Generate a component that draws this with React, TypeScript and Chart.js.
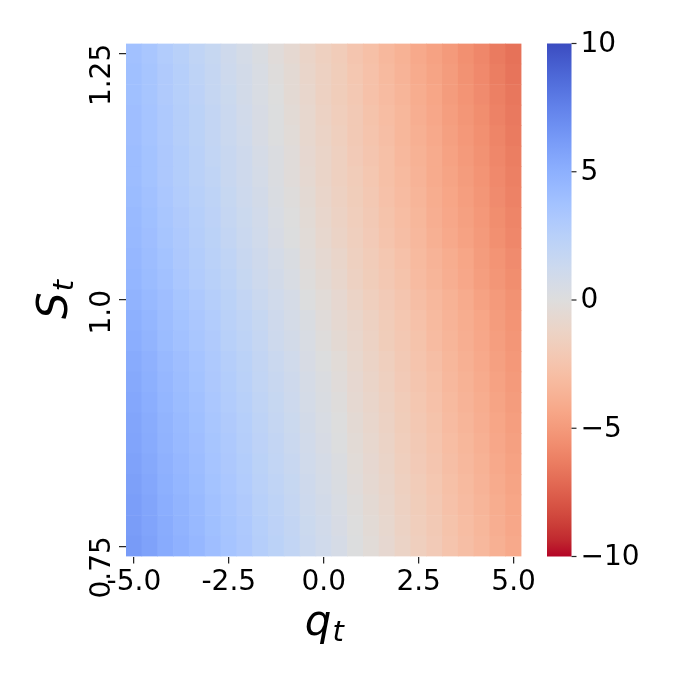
import React, { useEffect, useRef } from "react";
import { Chart, registerables } from "chart.js";

Chart.register(...registerables);

// ---- data ----
// q_t grid (columns, left -> right)
const Q_GRID = [
  -5.0, -4.583, -4.167, -3.75, -3.333, -2.917, -2.5, -2.083, -1.667, -1.25, -0.833, -0.417,
  0.0, 0.417, 0.833, 1.25, 1.667, 2.083, 2.5, 2.917, 3.333, 3.75, 4.167, 4.583, 5.0,
];
// S_t grid (rows, bottom -> top)
const S_GRID = [
  0.75, 0.771, 0.792, 0.813, 0.833, 0.854, 0.875, 0.896, 0.917, 0.938, 0.958, 0.979,
  1.0, 1.021, 1.042, 1.063, 1.083, 1.104, 1.125, 1.146, 1.167, 1.188, 1.208, 1.229, 1.25,
];
const X_TICK_INDEX = [0, 6, 12, 18, 24];
const X_TICK_LABELS = ["-5.0", "-2.5", "0.0", "2.5", "5.0"];
const Y_TICK_INDEX = [0, 12, 24];
const Y_TICK_LABELS = ["0.75", "1.0", "1.25"];
const CB_TICKS = [-10, -5, 0, 5, 10];
const CB_TICK_LABELS = ["\u221210", "\u22125", "0", "5", "10"];
const V_MIN = -10;
const V_MAX = 10;

// cell values, one row per S (bottom row S=0.75 first), columns follow Q_GRID
const VALUES: number[][] = [
  [6.2,5.8,5.3,4.9,4.5,4.0,3.6,3.2,2.7,2.3,1.9,1.4,1.0,0.6,0.1,-0.3,-0.7,-1.2,-1.6,-2.0,-2.5,-2.9,-3.3,-3.8,-4.2],
  [6.1,5.7,5.2,4.8,4.4,3.9,3.5,3.1,2.6,2.2,1.8,1.3,0.9,0.5,0.0,-0.4,-0.8,-1.3,-1.7,-2.1,-2.6,-3.0,-3.4,-3.9,-4.3],
  [6.0,5.6,5.1,4.7,4.3,3.8,3.4,3.0,2.5,2.1,1.7,1.2,0.8,0.4,-0.1,-0.5,-0.9,-1.4,-1.8,-2.2,-2.7,-3.1,-3.5,-4.0,-4.4],
  [5.9,5.5,5.0,4.6,4.2,3.7,3.3,2.9,2.4,2.0,1.6,1.1,0.7,0.3,-0.2,-0.6,-1.0,-1.5,-1.9,-2.3,-2.8,-3.2,-3.6,-4.1,-4.5],
  [5.8,5.4,4.9,4.5,4.1,3.6,3.2,2.8,2.3,1.9,1.5,1.0,0.6,0.2,-0.3,-0.7,-1.1,-1.6,-2.0,-2.4,-2.9,-3.3,-3.7,-4.2,-4.6],
  [5.7,5.3,4.8,4.4,4.0,3.5,3.1,2.7,2.2,1.8,1.4,0.9,0.5,0.1,-0.4,-0.8,-1.2,-1.7,-2.1,-2.5,-3.0,-3.4,-3.8,-4.3,-4.7],
  [5.6,5.2,4.7,4.3,3.9,3.4,3.0,2.6,2.1,1.7,1.3,0.8,0.4,0.0,-0.5,-0.9,-1.3,-1.8,-2.2,-2.6,-3.1,-3.5,-3.9,-4.4,-4.8],
  [5.5,5.1,4.6,4.2,3.8,3.3,2.9,2.5,2.0,1.6,1.2,0.7,0.3,-0.1,-0.6,-1.0,-1.4,-1.9,-2.3,-2.7,-3.2,-3.6,-4.0,-4.5,-4.9],
  [5.4,5.0,4.5,4.1,3.7,3.2,2.8,2.4,1.9,1.5,1.1,0.6,0.2,-0.2,-0.7,-1.1,-1.5,-2.0,-2.4,-2.8,-3.3,-3.7,-4.1,-4.6,-5.0],
  [5.3,4.9,4.4,4.0,3.6,3.1,2.7,2.3,1.8,1.4,1.0,0.5,0.1,-0.3,-0.8,-1.2,-1.6,-2.1,-2.5,-2.9,-3.4,-3.8,-4.2,-4.7,-5.1],
  [5.1,4.7,4.2,3.8,3.4,3.0,2.5,2.1,1.7,1.2,0.8,0.4,-0.1,-0.5,-0.9,-1.3,-1.8,-2.2,-2.6,-3.1,-3.5,-3.9,-4.3,-4.8,-5.2],
  [5.0,4.6,4.1,3.7,3.3,2.9,2.4,2.0,1.6,1.1,0.7,0.3,-0.2,-0.6,-1.0,-1.4,-1.9,-2.3,-2.7,-3.2,-3.6,-4.0,-4.4,-4.9,-5.3],
  [4.8,4.4,4.0,3.5,3.1,2.7,2.3,1.8,1.4,1.0,0.6,0.1,-0.3,-0.7,-1.2,-1.6,-2.0,-2.4,-2.9,-3.3,-3.7,-4.1,-4.6,-5.0,-5.4],
  [4.6,4.2,3.8,3.3,2.9,2.5,2.1,1.6,1.2,0.8,0.4,-0.1,-0.5,-0.9,-1.4,-1.8,-2.2,-2.6,-3.1,-3.5,-3.9,-4.3,-4.8,-5.2,-5.6],
  [4.5,4.1,3.7,3.2,2.8,2.4,2.0,1.5,1.1,0.7,0.3,-0.2,-0.6,-1.0,-1.5,-1.9,-2.3,-2.7,-3.2,-3.6,-4.0,-4.4,-4.9,-5.3,-5.7],
  [4.4,4.0,3.5,3.1,2.7,2.3,1.8,1.4,1.0,0.5,0.1,-0.3,-0.8,-1.2,-1.6,-2.0,-2.5,-2.9,-3.3,-3.8,-4.2,-4.6,-5.0,-5.5,-5.9],
  [4.3,3.9,3.4,3.0,2.6,2.2,1.7,1.3,0.9,0.4,0.0,-0.4,-0.9,-1.3,-1.7,-2.1,-2.6,-3.0,-3.4,-3.9,-4.3,-4.7,-5.1,-5.6,-6.0],
  [4.2,3.8,3.3,2.9,2.5,2.1,1.6,1.2,0.8,0.3,-0.1,-0.5,-1.0,-1.4,-1.8,-2.2,-2.7,-3.1,-3.5,-4.0,-4.4,-4.8,-5.2,-5.7,-6.1],
  [4.1,3.7,3.2,2.8,2.4,2.0,1.5,1.1,0.7,0.2,-0.2,-0.6,-1.1,-1.5,-1.9,-2.3,-2.8,-3.2,-3.6,-4.1,-4.5,-4.9,-5.3,-5.8,-6.2],
  [4.1,3.7,3.2,2.8,2.4,1.9,1.5,1.1,0.6,0.2,-0.2,-0.7,-1.1,-1.5,-2.0,-2.4,-2.8,-3.3,-3.7,-4.1,-4.6,-5.0,-5.4,-5.9,-6.3],
  [4.0,3.6,3.1,2.7,2.3,1.8,1.4,1.0,0.5,0.1,-0.3,-0.8,-1.2,-1.6,-2.1,-2.5,-2.9,-3.4,-3.8,-4.2,-4.7,-5.1,-5.5,-6.0,-6.4],
  [4.0,3.6,3.1,2.7,2.3,1.8,1.4,0.9,0.5,0.1,-0.4,-0.8,-1.3,-1.7,-2.1,-2.6,-3.0,-3.4,-3.9,-4.3,-4.8,-5.2,-5.6,-6.1,-6.5],
  [3.9,3.5,3.0,2.6,2.2,1.7,1.3,0.8,0.4,0.0,-0.5,-0.9,-1.4,-1.8,-2.2,-2.7,-3.1,-3.5,-4.0,-4.4,-4.9,-5.3,-5.7,-6.2,-6.6],
  [3.9,3.5,3.0,2.6,2.1,1.7,1.2,0.8,0.4,-0.1,-0.5,-1.0,-1.4,-1.8,-2.3,-2.7,-3.2,-3.6,-4.1,-4.5,-4.9,-5.4,-5.8,-6.3,-6.7],
  [3.8,3.4,2.9,2.5,2.0,1.6,1.1,0.7,0.3,-0.2,-0.6,-1.1,-1.5,-1.9,-2.4,-2.8,-3.3,-3.7,-4.2,-4.6,-5.0,-5.5,-5.9,-6.4,-6.8],
];

// ---- colormap (coolwarm, sampled) ----
const COOLWARM: [number, number, number][] = [
  [59,76,192],[68,90,204],[77,104,215],[87,117,225],[98,130,234],[108,142,241],[119,154,247],[130,165,251],
  [141,176,254],[152,185,255],[163,194,255],[174,201,253],[184,208,249],[194,213,244],[204,217,238],[213,219,230],
  [221,221,221],[229,216,209],[236,211,197],[241,204,185],[245,196,173],[247,187,160],[247,177,148],[247,166,135],
  [244,154,123],[241,141,111],[236,127,99],[229,112,88],[222,96,77],[213,80,66],[203,62,56],[192,40,47],[180,4,38],
];

function coolwarm(t: number): string {
  const tt = Math.max(0, Math.min(1, t)) * (COOLWARM.length - 1);
  const i = Math.min(COOLWARM.length - 2, Math.floor(tt));
  const f = tt - i;
  const a = COOLWARM[i];
  const b = COOLWARM[i + 1];
  const c = [0, 1, 2].map((k) => Math.round(a[k] + (b[k] - a[k]) * f));
  return `rgb(${c[0]},${c[1]},${c[2]})`;
}

// reversed: high values blue, low values red
function colorFor(v: number): string {
  return coolwarm((V_MAX - v) / (V_MAX - V_MIN));
}

const FONT = "'DejaVu Sans', 'Liberation Sans', sans-serif";

const overlayPlugin = {
  id: "heatmapOverlay",
  afterDraw(chart: any) {
    const ctx: CanvasRenderingContext2D = chart.ctx;
    const area = chart.chartArea;
    const yScale = chart.scales.y;
    const cbScale = chart.scales.cb;

    ctx.save();
    ctx.fillStyle = "#000";

    // rotated y tick labels
    ctx.font = `28px ${FONT}`;
    Y_TICK_INDEX.forEach((idx, k) => {
      const py = yScale.getPixelForValue(idx + 0.5);
      ctx.save();
      ctx.translate(area.left - 16, py - 10);
      ctx.rotate(-Math.PI / 2);
      ctx.textAlign = "right";
      ctx.textBaseline = "alphabetic";
      ctx.fillText(Y_TICK_LABELS[k], 0, 0);
      ctx.restore();
    });

    // y axis title S_t
    {
      const cy = (area.top + area.bottom) / 2;
      ctx.save();
      ctx.translate(67, cy);
      ctx.rotate(-Math.PI / 2);
      ctx.font = `italic 42px ${FONT}`;
      const wS = ctx.measureText("S").width;
      ctx.font = `italic 29px ${FONT}`;
      const wt = ctx.measureText("t").width;
      const x0 = -(wS + wt) / 2;
      ctx.textAlign = "left";
      ctx.textBaseline = "alphabetic";
      ctx.font = `italic 42px ${FONT}`;
      ctx.fillText("S", x0, 0);
      ctx.font = `italic 29px ${FONT}`;
      ctx.fillText("t", x0 + wS + 1, 6);
      ctx.restore();
    }

    // x axis title q_t
    {
      const cx = (area.left + area.right) / 2;
      ctx.save();
      ctx.font = `italic 42px ${FONT}`;
      const wq = ctx.measureText("q").width;
      ctx.font = `italic 29px ${FONT}`;
      const wt = ctx.measureText("t").width;
      const x0 = cx - (wq + wt) / 2;
      ctx.textAlign = "left";
      ctx.textBaseline = "alphabetic";
      ctx.font = `italic 42px ${FONT}`;
      ctx.fillText("q", x0, 635);
      ctx.font = `italic 29px ${FONT}`;
      ctx.fillText("t", x0 + wq + 1, 641);
      ctx.restore();
    }

    // colorbar
    const cbLeft = 547;
    const cbRight = 571.5;
    const top = cbScale ? cbScale.getPixelForValue(V_MAX) : area.top;
    const bottom = cbScale ? cbScale.getPixelForValue(V_MIN) : area.bottom;
    const grad = ctx.createLinearGradient(0, top, 0, bottom);
    COOLWARM.forEach((c, i) => {
      grad.addColorStop(i / (COOLWARM.length - 1), `rgb(${c[0]},${c[1]},${c[2]})`);
    });
    ctx.fillStyle = grad;
    ctx.fillRect(cbLeft, top, cbRight - cbLeft, bottom - top);

    ctx.strokeStyle = "#262626";
    ctx.lineWidth = 1.2;
    ctx.fillStyle = "#000";
    ctx.font = `28px ${FONT}`;
    ctx.textAlign = "left";
    ctx.textBaseline = "middle";
    CB_TICKS.forEach((v, k) => {
      const py = cbScale
        ? cbScale.getPixelForValue(v)
        : bottom - ((v - V_MIN) / (V_MAX - V_MIN)) * (bottom - top);
      ctx.beginPath();
      ctx.moveTo(cbRight, py);
      ctx.lineTo(cbRight + 5, py);
      ctx.stroke();
      ctx.fillText(CB_TICK_LABELS[k], cbRight + 9, py + 1);
    });

    ctx.restore();
  },
};

export default function App() {
  const canvasRef = useRef<HTMLCanvasElement | null>(null);

  useEffect(() => {
    const canvas = canvasRef.current;
    if (!canvas) return;

    const datasets = VALUES.map((row, i) => ({
      label: `S=${S_GRID[i]}`,
      data: row.map(() => [i, i + 1] as [number, number]),
      backgroundColor: row.map((v) => colorFor(v)),
      borderWidth: 0,
      borderSkipped: false as const,
      barPercentage: 1,
      categoryPercentage: 1,
    }));

    const chart = new Chart(canvas, {
      type: "bar",
      data: {
        labels: Q_GRID.map((q) => String(q)),
        datasets: datasets as any,
      },
      options: {
        responsive: false,
        maintainAspectRatio: false,
        animation: false,
        devicePixelRatio: 1,
        layout: { padding: { top: 43.5, right: 154.5, left: 0, bottom: 0 } },
        plugins: {
          legend: { display: false },
          tooltip: { enabled: false },
        },
        scales: {
          x: {
            type: "category",
            stacked: true,
            offset: true,
            border: { display: false },
            grid: {
              display: true,
              offset: false,
              drawOnChartArea: false,
              drawTicks: true,
              tickLength: 7,
              color: "#262626",
              lineWidth: 1.25,
            },
            ticks: {
              autoSkip: false,
              maxRotation: 0,
              minRotation: 0,
              padding: 2,
              color: "#000",
              font: { family: FONT, size: 28 },
              callback: (v: any) => {
                const k = X_TICK_INDEX.indexOf(Number(v));
                return k >= 0 ? X_TICK_LABELS[k] : "";
              },
            },
            afterBuildTicks: (scale: any) => {
              scale.ticks = X_TICK_INDEX.map((i) => ({ value: i }));
            },
            afterFit: (scale: any) => {
              scale.height = 676 - 556.5;
            },
          },
          y: {
            type: "linear",
            min: 0,
            max: S_GRID.length,
            stacked: false,
            border: { display: false },
            grid: {
              display: true,
              drawOnChartArea: false,
              drawTicks: true,
              tickLength: 7,
              color: "#262626",
              lineWidth: 1.25,
            },
            ticks: {
              color: "rgba(0,0,0,0)",
              font: { family: FONT, size: 28 },
              callback: () => "",
            },
            afterBuildTicks: (scale: any) => {
              scale.ticks = Y_TICK_INDEX.map((i) => ({ value: i + 0.5 }));
            },
            afterFit: (scale: any) => {
              scale.width = 126;
            },
          },
          cb: {
            type: "linear",
            axis: "y",
            position: "right",
            display: false,
            min: V_MIN,
            max: V_MAX,
          },
        } as any,
      },
      plugins: [overlayPlugin],
    });

    return () => {
      chart.destroy();
    };
  }, []);

  return (
    <div
      style={{
        position: "absolute",
        left: 0,
        top: 0,
        width: 676,
        height: 676,
        background: "#fff",
      }}
    >
      <canvas ref={canvasRef} width={676} height={676} style={{ display: "block" }} />
    </div>
  );
}
